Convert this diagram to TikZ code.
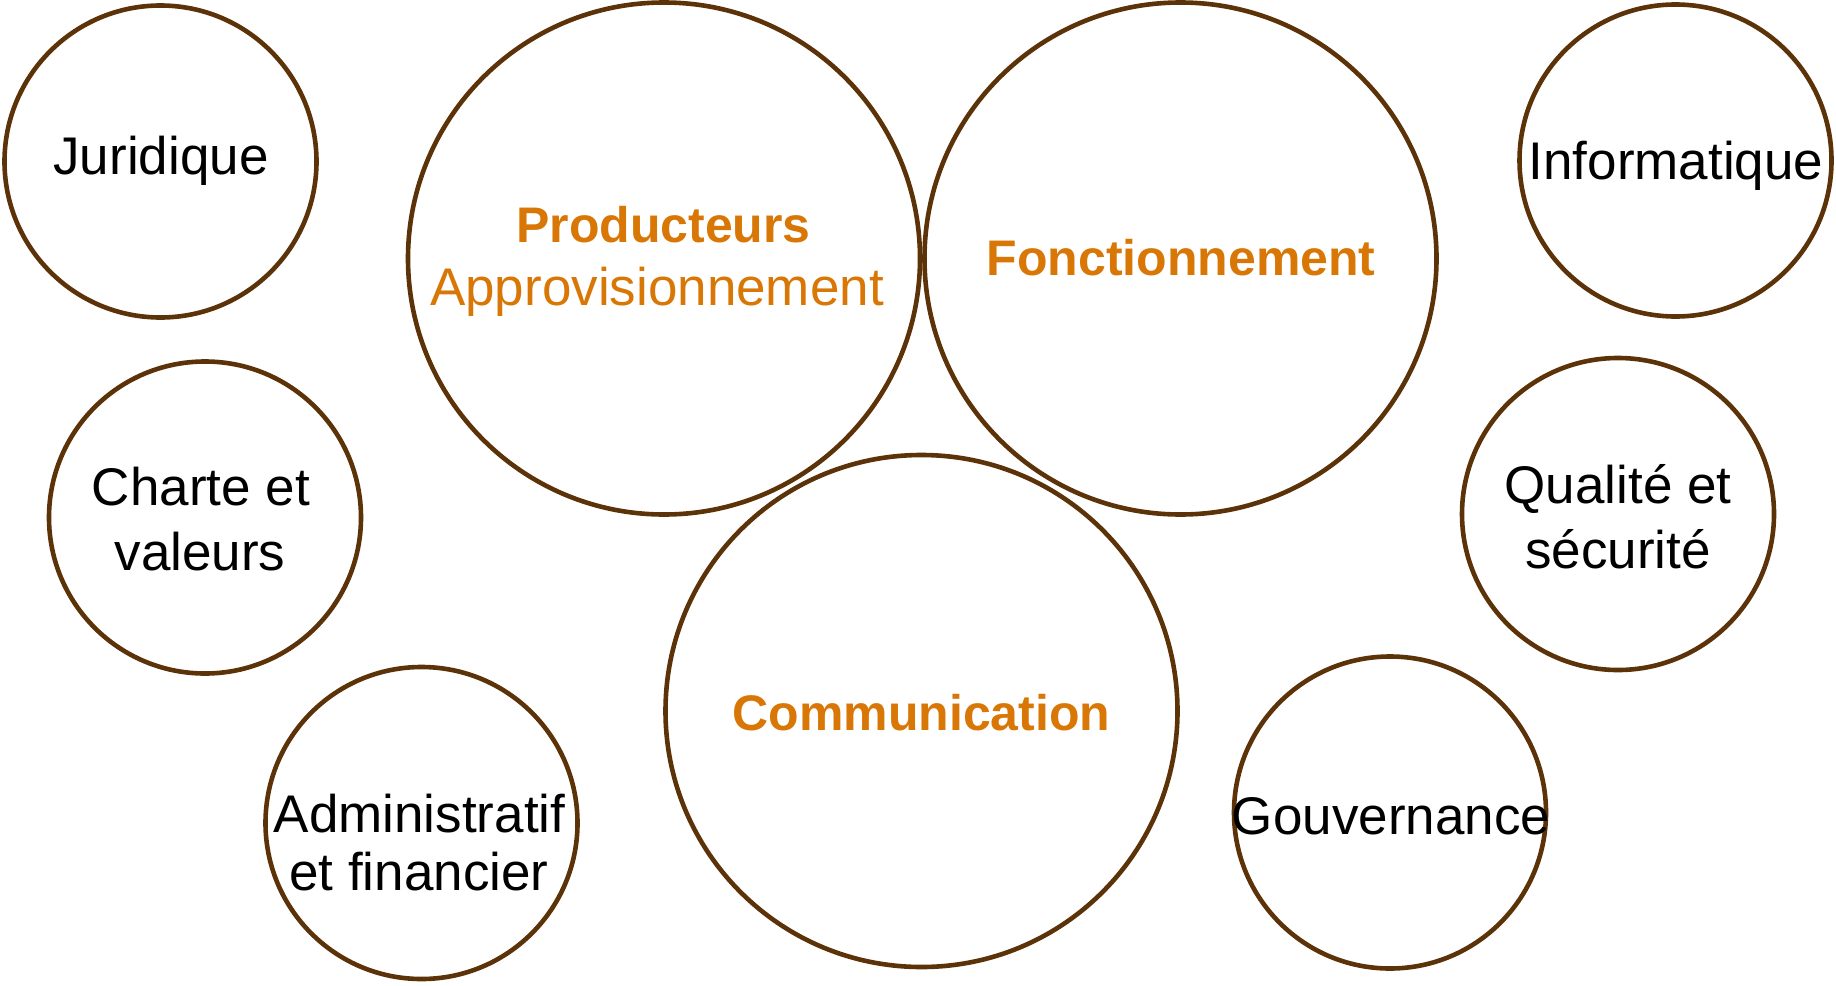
\documentclass[tikz,border=0pt]{standalone}
\usepackage{fontspec}
\setmainfont{Liberation Sans}
\definecolor{ringbrown}{RGB}{92,50,8}
\definecolor{accent}{RGB}{217,119,6}
\begin{document}
\begin{tikzpicture}[x=1pt,y=-1pt,
  ring/.style={circle,draw=ringbrown,line width=4.6pt,inner sep=0pt},
  small/.style={ring,minimum size=312pt},
  big/.style={ring,minimum size=512pt},
  lbl/.style={anchor=base,inner sep=0pt,font=\fontsize{53}{60}\selectfont,text=black},
  hot/.style={anchor=base,inner sep=0pt,font=\fontsize{50}{58}\selectfont\bfseries,text=accent},
  warm/.style={anchor=base,inner sep=0pt,font=\fontsize{53}{60}\selectfont,text=accent}]
\useasboundingbox (0,0) rectangle (1836,985);
% circles
\node[small] (jur) at (160.5,161.5) {};
\node[big]   (prod) at (664,258.5) {};
\node[big]   (fonc) at (1180.5,258.5) {};
\node[small] (info) at (1675.5,160.5) {};
\node[small] (chart) at (205,517.5) {};
\node[small] (qual) at (1618,514) {};
\node[small] (admin) at (421.5,823) {};
\node[big]   (comm) at (921.5,711) {};
\node[small] (gouv) at (1390,812.5) {};
% texts
\node[lbl] (tjur) at (161,174) {Juridique};
\node[hot] (tprod) at (663.5,242) {Producteurs};
\node[warm] (tappro) at (657,305) {Approvisionnement};
\node[hot] (tfonc) at (1181,275) {Fonctionnement};
\node[lbl] (tinfo) at (1676,179) {Informatique};
\node[lbl] (tchart1) at (201,505) {Charte et};
\node[lbl] (tchart2) at (200,570) {valeurs};
\node[lbl] (tqual1) at (1618,503) {Qualité et};
\node[lbl] (tqual2) at (1618,568) {sécurité};
\node[lbl] (tadm1) at (419.5,832) {Administratif};
\node[lbl] (tadm2) at (419,890) {et financier};
\node[hot] (tcomm) at (921.5,730) {Communication};
\node[lbl] (tgouv) at (1391,834) {Gouvernance};
\end{tikzpicture}
\end{document}
